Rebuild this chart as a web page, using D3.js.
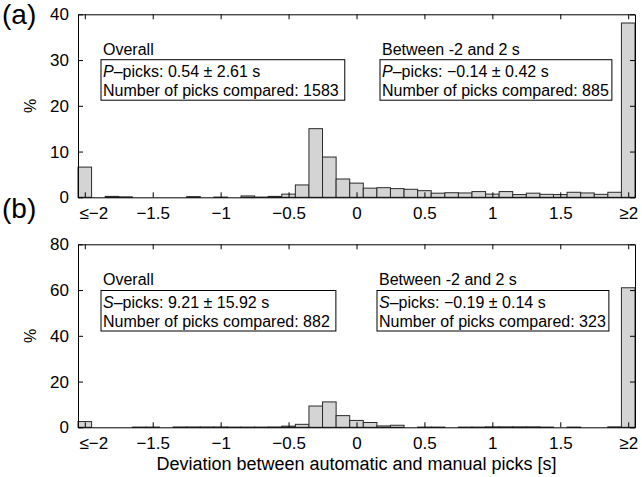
<!DOCTYPE html>
<html>
<head>
<meta charset="utf-8">
<script src="https://cdn.jsdelivr.net/npm/d3@7"></script>
<style>
  body { margin: 0; background: #fff; }
  svg { font-family: "Liberation Sans", Arial, Helvetica, sans-serif; }
</style>
</head>
<body>
<div class="chart"></div>
<script>
// DATA ************************************************************************
// bin centres (s), first and last bins are the "<= -2" and ">= 2" catch-alls
const binCenters = [-2.0, -1.9, -1.8, -1.7, -1.6, -1.5, -1.4, -1.3, -1.2, -1.1,
  -1.0, -0.9, -0.8, -0.7, -0.6, -0.5, -0.4, -0.3, -0.2, -0.1,
  0.0, 0.1, 0.2, 0.3, 0.4, 0.5, 0.6, 0.7, 0.8, 0.9,
  1.0, 1.1, 1.2, 1.3, 1.4, 1.5, 1.6, 1.7, 1.8, 1.9, 2.0];

// % of P picks per bin (panel a)
const pPercent = [6.6, 0, 0.2, 0.1, 0, 0, 0, 0, 0.15, 0,
  0.05, 0, 0.3, 0.05, 0.2, 0.7, 2.7, 15.0, 8.8, 4.0,
  3.1, 2.0, 2.1, 1.9, 1.75, 1.45, 0.9, 1.0, 0.95, 1.25,
  0.7, 1.25, 0.6, 0.9, 0.65, 0.6, 1.1, 0.95, 0.65, 1.1, 38.1];

// % of S picks per bin (panel b)
const sPercent = [2.5, 0, 0, 0, 0.1, 0.1, 0, 0.15, 0.15, 0.15,
  0.15, 0.1, 0.1, 0.1, 0.15, 0.5, 1.3, 9.3, 11.1, 5.1,
  3.0, 2.1, 0.6, 0.9, 0, 0.1, 0.1, 0, 0.1, 0.1,
  0.2, 0.2, 0.2, 0.2, 0.1, 0, 0.1, 0, 0, 0.2, 61.0];

const xTickValues = [-2, -1.5, -1, -0.5, 0, 0.5, 1, 1.5, 2];
const xTickLabels = ["\u2264\u22122", "\u22121.5", "\u22121", "\u22120.5", "0", "0.5", "1", "1.5", "\u22652"];
const yTicksA = [0, 10, 20, 30, 40];
const yTicksB = [0, 20, 40, 60, 80];

const statsA = {
  overall: ["P", "\u2013picks: 0.54 \u00b1 2.61 s", "Number of picks compared: 1583"],
  between: ["P", "\u2013picks: \u22120.14 \u00b1 0.42 s", "Number of picks compared: 885"]
};
const statsB = {
  overall: ["S", "\u2013picks: 9.21 \u00b1 15.92 s", "Number of picks compared: 882"],
  between: ["S", "\u2013picks: \u22120.19 \u00b1 0.14 s", "Number of picks compared: 323"]
};

// LAYOUT **********************************************************************
const width = 642, height = 477;
const left = 78, right = 635, plotH = 183;
const binW = 0.1;

const svg = d3.select(".chart").append("svg")
  .attr("width", width).attr("height", height);

const xScale = d3.scaleLinear().domain([-2.05, 2.05]).range([left, right]);

const panels = [
  {label: "(a)", top: 14.3, values: pPercent, yMax: 40, yTicks: yTicksA, stats: statsA,
   labelY: 24, headY: 55, line1: 76.7, betweenX: 382},
  {label: "(b)", top: 244.3, values: sPercent, yMax: 80, yTicks: yTicksB, stats: statsB,
   labelY: 218, headY: 285, line1: 307.5, betweenX: 379}
];

panels.forEach(p => {
  const bottom = p.top + plotH;
  const yScale = d3.scaleLinear().domain([0, p.yMax]).range([bottom, p.top]);
  const g = svg.append("g");

  // bars
  g.selectAll("rect.bar")
    .data(binCenters.map((c, i) => [c, p.values[i]]).filter(d => d[1] > 0))
    .enter().append("rect")
    .attr("class", "bar")
    .attr("x", d => xScale(d[0] - binW / 2))
    .attr("width", d => xScale(d[0] + binW / 2) - xScale(d[0] - binW / 2))
    .attr("y", d => yScale(d[1]))
    .attr("height", d => bottom - yScale(d[1]))
    .attr("fill", "#d4d4d4")
    .attr("stroke", "#2a2a2a")
    .attr("stroke-width", 1);

  // axes, ticks pointing inward on all four sides
  const xb = d3.axisBottom(xScale).tickValues(xTickValues)
    .tickSizeInner(-5).tickSizeOuter(0).tickPadding(10)
    .tickFormat((d, i) => xTickLabels[i]);
  const xt = d3.axisTop(xScale).tickValues(xTickValues)
    .tickSizeInner(-5).tickSizeOuter(0).tickFormat("");
  const yl = d3.axisLeft(yScale).tickValues(p.yTicks)
    .tickSizeInner(-5).tickSizeOuter(0).tickPadding(9);
  const yr = d3.axisRight(yScale).tickValues(p.yTicks)
    .tickSizeInner(-5).tickSizeOuter(0).tickFormat("");

  const xAxisG = g.append("g").attr("transform", `translate(0,${bottom})`).call(xb);
  g.append("g").attr("transform", `translate(0,${p.top})`).call(xt);
  g.append("g").attr("transform", `translate(${left},0)`).call(yl);
  g.append("g").attr("transform", `translate(${right},0)`).call(yr);

  g.selectAll(".tick text").attr("font-size", 17).attr("fill", "#000")
    .attr("font-family", "Liberation Sans, Arial, sans-serif");
  // the "<= -2" label sits flush with the left edge of the box
  xAxisG.selectAll(".tick text").filter((d, i) => i === 0)
    .attr("text-anchor", "start").attr("x", left - xScale(-2) + 1);
  g.selectAll(".domain").attr("stroke", "#000");
  g.selectAll(".tick line").attr("stroke", "#000");

  // panel letter and y label
  svg.append("text").attr("x", 2).attr("y", p.labelY)
    .attr("font-size", 28).text(p.label);
  svg.append("text")
    .attr("transform", `translate(36,${p.top + plotH / 2}) rotate(-90)`)
    .attr("text-anchor", "middle").attr("font-size", 16).text("%");

  // stats boxes
  const boxes = [
    {head: "Overall", x: 103, s: p.stats.overall, padR: 6},
    {head: "Between -2 and 2 s", x: p.betweenX, s: p.stats.between, padR: 3}
  ];
  boxes.forEach(b => {
    svg.append("text").attr("x", b.x).attr("y", p.headY)
      .attr("font-size", 16).text(b.head);
    const tg = svg.append("g");
    const t1 = tg.append("text").attr("x", b.x).attr("y", p.line1).attr("font-size", 16);
    t1.append("tspan").attr("font-style", "italic").text(b.s[0]);
    t1.append("tspan").text(b.s[1]);
    tg.append("text").attr("x", b.x).attr("y", p.line1 + 19.5)
      .attr("font-size", 16).text(b.s[2]);
    const bb = tg.node().getBBox();
    tg.insert("rect", ":first-child")
      .attr("x", bb.x - 2).attr("y", bb.y - 3)
      .attr("width", bb.width + 2 + b.padR).attr("height", bb.height + 4)
      .attr("fill", "#fff").attr("stroke", "#000").attr("stroke-width", 1);
  });
});

// x axis title
svg.append("text").attr("x", (left + right) / 2).attr("y", 470)
  .attr("text-anchor", "middle").attr("font-size", 18)
  .text("Deviation between automatic and manual picks [s]");
</script>
</body>
</html>
